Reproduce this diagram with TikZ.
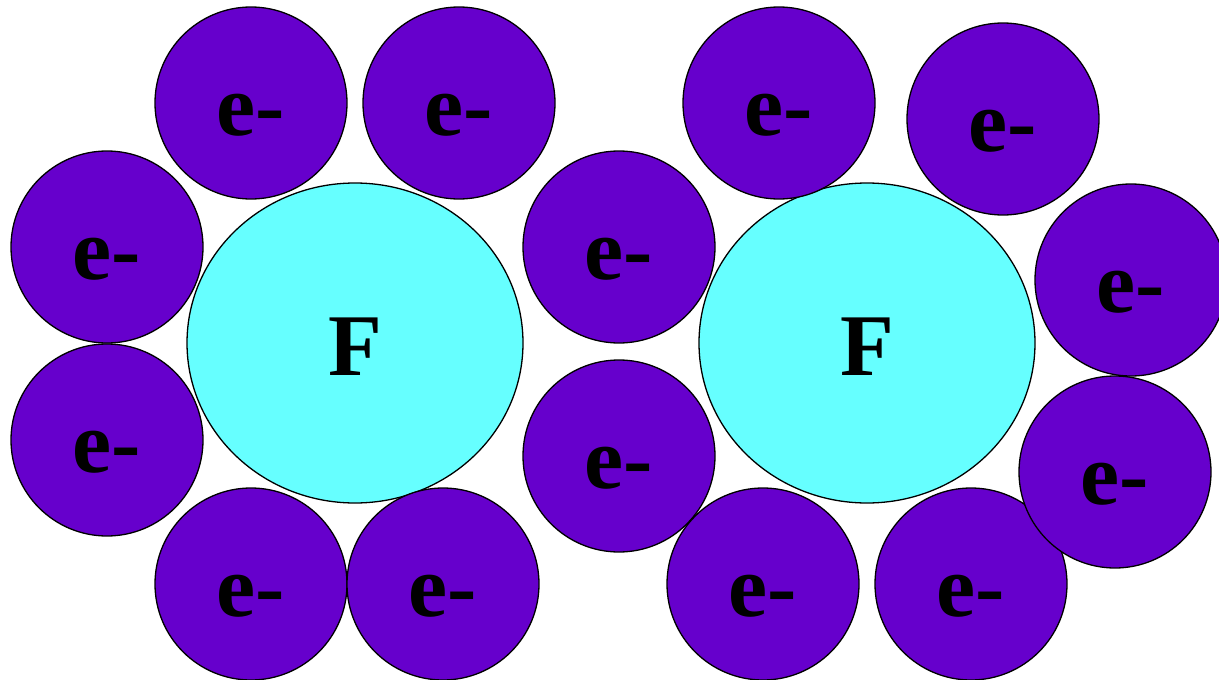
\documentclass[tikz,border=0pt]{standalone}
\usepackage{fontspec}
\setmainfont{Liberation Serif}
\usetikzlibrary{shapes.geometric, positioning}
\definecolor{electronpurple}{RGB}{102, 0, 204}
\definecolor{nucleuscyan}{RGB}{102, 255, 255}
\tikzstyle{nucleus} = [ellipse, draw=black, fill=nucleuscyan, minimum width=336pt, minimum height=320pt, line width=1.3pt, inner sep=0pt, text height=64pt, text depth=0pt, font=\fontsize{88}{88}\selectfont\bfseries]
\tikzstyle{electron} = [circle, draw=black, fill=electronpurple, minimum size=192pt, line width=1.3pt, inner sep=0pt, text height=64pt, text depth=0pt, font=\fontsize{88}{88}\selectfont\bfseries]

\begin{document}
\begin{tikzpicture}[x=1pt, y=-1pt]
    \useasboundingbox (0, 0) rectangle (1219, 680);
    \clip (0, 0) rectangle (1219, 680);
    % Fluorine nuclei
    \node[nucleus] (fleft) at (355, 343) {F};
    \node[nucleus] (fright) at (867, 343) {F};

    % Electrons round the left atom
    \node[electron] (ea) at (251, 103) {e-};
    \node[electron] (eb) at (459, 103) {e-};
    \node[electron] (ec) at (107, 247) {e-};
    \node[electron] (ed) at (107, 440) {e-};
    \node[electron] (ee) at (251, 584) {e-};
    \node[electron] (ef) at (443, 584) {e-};

    % Shared electrons
    \node[electron] (eg) at (619, 247) {e-};
    \node[electron] (eh) at (619, 456) {e-};

    % Electrons round the right atom
    \node[electron] (ei) at (779, 103) {e-};
    \node[electron] (ej) at (1003, 119) {e-};
    \node[electron] (ek) at (1131, 280) {e-};
    \node[electron] (em) at (763, 584) {e-};
    \node[electron] (en) at (971, 584) {e-};
    \node[electron] (el) at (1115, 472) {e-};
\end{tikzpicture}
\end{document}
